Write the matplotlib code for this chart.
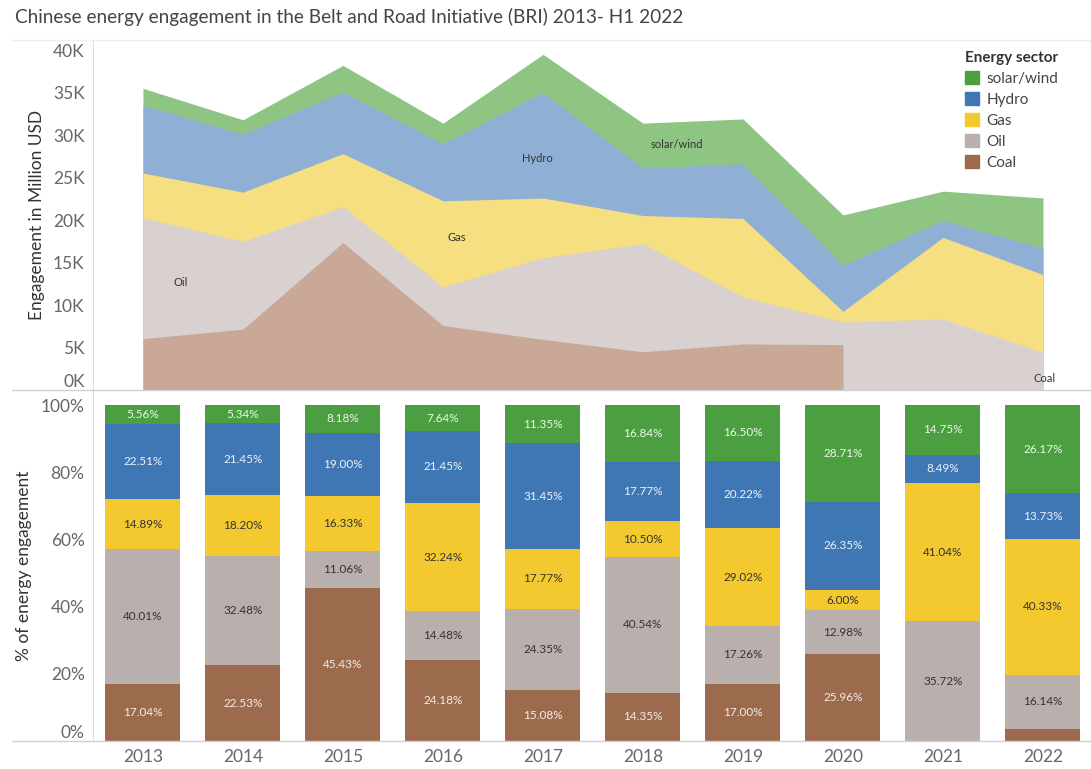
import numpy as np
import matplotlib
matplotlib.use("Agg")
import matplotlib.pyplot as plt
from matplotlib.patches import Patch
from matplotlib.ticker import FuncFormatter

plt.rcParams['font.family'] = ['Lato', 'DejaVu Sans']

years = [2013, 2014, 2015, 2016, 2017, 2018, 2019, 2020, 2021, 2022]
# total engagement per year, million USD
totals = [35500, 31800, 38200, 31400, 39500, 31400, 31900, 20600, 23400, 22600]

# share of each sector, %
coal_pct = [17.04, 22.53, 45.43, 24.18, 15.08, 14.35, 17.00, 25.96, 0.00, 3.63]
oil_pct = [40.01, 32.48, 11.06, 14.48, 24.35, 40.54, 17.26, 12.98, 35.72, 16.14]
gas_pct = [14.89, 18.20, 16.33, 32.24, 17.77, 10.50, 29.02, 6.00, 41.04, 40.33]
hydro_pct = [22.51, 21.45, 19.00, 21.45, 31.45, 17.77, 20.22, 26.35, 8.49, 13.73]
solar_pct = [5.56, 5.34, 8.18, 7.64, 11.35, 16.84, 16.50, 28.71, 14.75, 26.17]

sectors = ['Coal', 'Oil', 'Gas', 'Hydro', 'solar/wind']
pcts = [coal_pct, oil_pct, gas_pct, hydro_pct, solar_pct]
bar_colors = ['#9c6b4e', '#b9b0ad', '#f3c92f', '#3f76b4', '#4b9f40']
area_colors = ['#c9a897', '#d8d1cf', '#f6df80', '#90afd4', '#8fc583']
text_colors = ['#f4ece6', '#333333', '#333333', '#eef2f8', '#eef6ec']

x = np.array(years)
pct = np.array(pcts)
tot = np.array(totals)

fig = plt.figure(figsize=(10.91, 7.69), dpi=100)
ax1 = fig.add_axes([0.0852, 0.4928, 0.9148, 0.4551])
ax2 = fig.add_axes([0.0852, 0.0364, 0.9148, 0.4564])

fig.text(0.0137, 0.978, 'Chinese energy engagement in the Belt and Road Initiative (BRI) 2013- H1 2022',
         fontsize=13.7, color='#444444', ha='left', va='center')

# --- top: stacked area (each layer filled from zero, drawn back to front)
values = pct / 100.0 * tot
cum = np.cumsum(values, axis=0)
for i in range(len(sectors) - 1, -1, -1):
    top = cum[i].astype(float)
    if sectors[i] == 'Coal':
        top = np.where(pct[i] > 0, top, np.nan)
        top[-1] = np.nan
    ax1.fill_between(x, 0, top, color=area_colors[i], lw=0)

ax1.set_xlim(2012.5, 2022.48)
ax1.set_ylim(0, 41180)
ax1.set_yticks(range(0, 40001, 5000))
ax1.yaxis.set_major_formatter(FuncFormatter(lambda v, p: f'{int(v / 1000)}K'))
ax1.set_xticks([])
ax1.set_ylabel('Engagement in Million USD', fontsize=12.5, color='#333333', labelpad=6)

area_labels = [('Oil', 2013.38, 12600), ('Gas', 2016.14, 17900), ('Hydro', 2016.94, 27300),
               ('solar/wind', 2018.34, 28900), ('Coal', 2022.02, 1400)]
for txt, lx, ly in area_labels:
    ax1.text(lx, ly, txt, fontsize=8, color='#333333', ha='center', va='center')

handles = [Patch(color=bar_colors[i], label=sectors[i]) for i in range(len(sectors) - 1, -1, -1)]
leg = ax1.legend(handles=handles, title='Energy sector', loc='upper right', bbox_to_anchor=(0.978, 1.0),
                 frameon=False, fontsize=11, title_fontproperties={'weight': 'bold', 'size': 11},
                 handlelength=0.9, handleheight=0.9, handletextpad=0.5, labelspacing=0.42,
                 alignment='left', borderaxespad=0.3)
for t in leg.get_texts():
    t.set_color('#444444')
leg.get_title().set_color('#333333')

# --- bottom: 100% stacked bars
bottom = np.zeros(len(years))
for i in range(len(sectors)):
    ax2.bar(x, pct[i], width=0.75, bottom=bottom, color=bar_colors[i], lw=0)
    for j in range(len(years)):
        if pct[i][j] >= 5:
            ax2.text(x[j], bottom[j] + pct[i][j] / 2, f'{pct[i][j]:.2f}%', fontsize=8.5,
                     color=text_colors[i], ha='center', va='center')
    bottom += pct[i]

ax2.set_xlim(2012.5, 2022.48)
ax2.set_ylim(0, 104.5)
ax2.set_yticks(range(0, 101, 20))
ax2.yaxis.set_major_formatter(FuncFormatter(lambda v, p: f'{int(v)}%'))
ax2.set_xticks(years)
ax2.set_xticklabels([str(y) for y in years])
ax2.set_ylabel('% of energy engagement', fontsize=12.5, color='#333333', labelpad=6)

for ax in (ax1, ax2):
    for s in ['top', 'right', 'bottom']:
        ax.spines[s].set_visible(False)
    ax.spines['left'].set_color('#dddddd')
    ax.tick_params(axis='both', length=0, labelsize=12.5, colors='#666666', pad=6)

# lift the lowest tick labels off the panel border like the original
for lab in ax1.get_yticklabels():
    if lab.get_text() == '0K':
        lab.set_va('bottom')
for lab in ax2.get_yticklabels():
    if lab.get_text() == '0%':
        lab.set_va('bottom')

# panel separator lines
fig.add_artist(plt.Line2D([0.011, 1.0], [0.4928, 0.4928], color='#d0d0d0', lw=1))
fig.add_artist(plt.Line2D([0.011, 1.0], [0.0364, 0.0364], color='#d0d0d0', lw=1))
fig.add_artist(plt.Line2D([0.011, 1.0], [0.948, 0.948], color='#eeeeee', lw=1))

fig.savefig('out.png', dpi=100)
